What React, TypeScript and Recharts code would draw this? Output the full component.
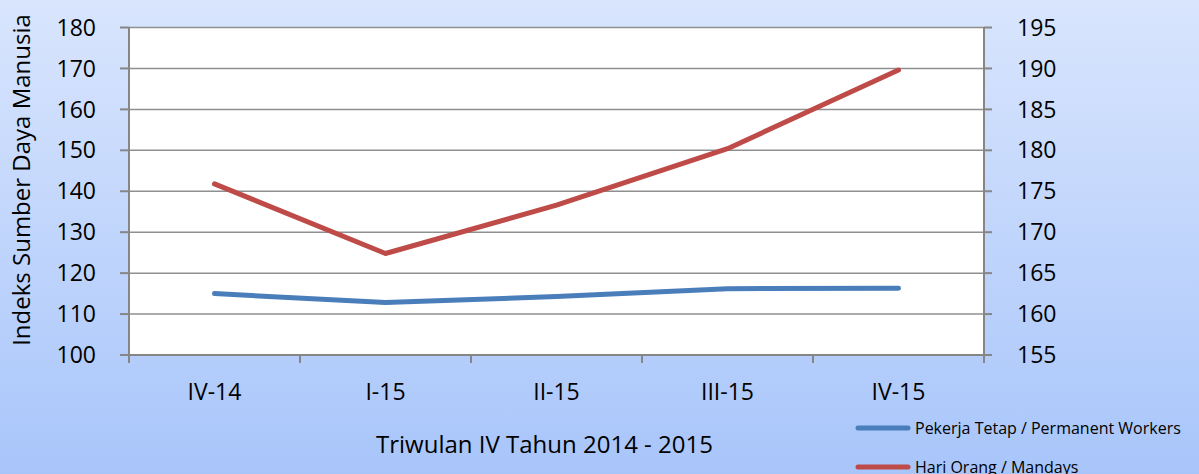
import { ComposedChart, Line, XAxis, YAxis, CartesianGrid, Legend } from 'recharts';

const categories = ['IV-14', 'I-15', 'II-15', 'III-15', 'IV-15'];
const permanentWorkers = [115.0, 112.8, 114.3, 116.2, 116.3];
const mandays = [175.9, 167.4, 173.3, 180.2, 189.8];
const leftTicks = [100, 110, 120, 130, 140, 150, 160, 170, 180];
const rightTicks = [155, 160, 165, 170, 175, 180, 185, 190, 195];
const seriesOrder = ['permanent', 'mandays'];

const data = categories.map((q, i) => ({
  q,
  permanent: permanentWorkers[i],
  mandays: mandays[i],
}));

const FONT = '"Open Sans", sans-serif';
const AXIS = '#868686';
const GRID = '#8f8f8f';
// plot spans x 129..984, five categories
const BAND = (984 - 129) / categories.length;

function CategoryTick(props: any) {
  const { x, y, payload, index } = props;
  const axisY = y - 29;
  return (
    <g>
      <line x1={x - BAND / 2} x2={x - BAND / 2} y1={axisY} y2={axisY + 8} stroke={AXIS} strokeWidth={2} />
      {index === categories.length - 1 && (
        <line x1={x + BAND / 2} x2={x + BAND / 2} y1={axisY} y2={axisY + 8} stroke={AXIS} strokeWidth={2} />
      )}
      <text x={x} y={y} dy="0.71em" textAnchor="middle" fill="#000" fontSize={23} fontFamily={FONT}>
        {payload.value}
      </text>
    </g>
  );
}

function renderLegend({ payload }: any) {
  const items = [...payload].sort(
    (a: any, b: any) => seriesOrder.indexOf(a.dataKey) - seriesOrder.indexOf(b.dataKey)
  );
  return (
    <div style={{ fontFamily: FONT, fontSize: 16, color: '#000' }}>
      {items.map((entry: any) => (
        <div key={entry.value} style={{ display: 'flex', alignItems: 'center', height: 39.5 }}>
          <svg width={56} height={8}>
            <line x1={3} x2={53} y1={4} y2={4} stroke={entry.color} strokeWidth={5} strokeLinecap="round" />
          </svg>
          <span style={{ marginLeft: 4, whiteSpace: 'nowrap' }}>{entry.value}</span>
        </div>
      ))}
    </div>
  );
}

export default function App() {
  return (
    <div
      style={{
        width: 1199,
        height: 474,
        background: 'linear-gradient(180deg, #d9e5fd 0%, #c3d7fc 45%, #a8c5fa 100%)',
        position: 'relative',
      }}
    >
      <style>{'body{margin:0}'}</style>
      <ComposedChart width={1199} height={474} data={data} margin={{ top: 27.5, right: 0, bottom: 69, left: 0 }}>
        <CartesianGrid vertical={false} stroke={GRID} strokeWidth={1.5} fill="#ffffff" yAxisId="left" />
        <XAxis
          dataKey="q"
          scale="point"
          padding={{ left: BAND / 2, right: BAND / 2 }}
          tick={<CategoryTick />}
          tickLine={false}
          tickSize={0}
          tickMargin={29}
          height={50}
          axisLine={{ stroke: AXIS, strokeWidth: 2 }}
          interval={0}
          label={{
            content: (p: any) => (
              <text
                x={p.viewBox.x + p.viewBox.width / 2 - 12}
                y={453}
                textAnchor="middle"
                fill="#000"
                fontSize={24}
                fontFamily={FONT}
              >
                Triwulan IV Tahun 2014 - 2015
              </text>
            ),
          }}
        />
        <YAxis
          yAxisId="left"
          width={129}
          domain={[100, 180]}
          ticks={leftTicks}
          interval={0}
          tickSize={9}
          tickMargin={24}
          tickLine={{ stroke: AXIS, strokeWidth: 2 }}
          axisLine={{ stroke: AXIS, strokeWidth: 2 }}
          tick={{ fill: '#000', fontSize: 23, fontFamily: FONT }}
          label={{
            content: () => (
              <text
                transform="translate(30,180) rotate(-90)"
                textAnchor="middle"
                fill="#000"
                fontSize={24}
                fontFamily={FONT}
              >
                Indeks Sumber Daya Manusia
              </text>
            ),
          }}
        />
        <YAxis
          yAxisId="right"
          orientation="right"
          width={215}
          domain={[155, 195]}
          ticks={rightTicks}
          interval={0}
          tickSize={8}
          tickMargin={25}
          tickLine={{ stroke: AXIS, strokeWidth: 2 }}
          axisLine={{ stroke: AXIS, strokeWidth: 2 }}
          tick={{ fill: '#000', fontSize: 23, fontFamily: FONT }}
        />
        <Line
          yAxisId="left"
          type="linear"
          dataKey="permanent"
          name="Pekerja Tetap / Permanent Workers"
          stroke="#4a7ebb"
          strokeWidth={5}
          strokeLinecap="round"
          strokeLinejoin="round"
          dot={false}
          activeDot={false}
          isAnimationActive={false}
        />
        <Line
          yAxisId="right"
          type="linear"
          dataKey="mandays"
          name="Hari Orang / Mandays"
          stroke="#be4b48"
          strokeWidth={5}
          strokeLinecap="round"
          strokeLinejoin="round"
          dot={false}
          activeDot={false}
          isAnimationActive={false}
        />
        <Legend
          layout="vertical"
          align="center"
          verticalAlign="middle"
          content={renderLegend}
          wrapperStyle={{ left: 855, top: 408, width: 344 }}
        />
      </ComposedChart>
    </div>
  );
}
